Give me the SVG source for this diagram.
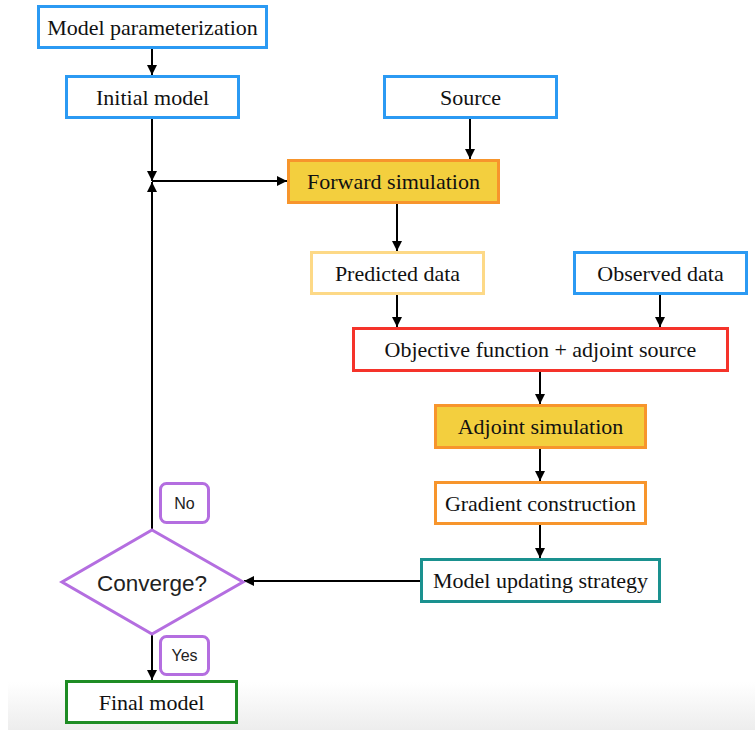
<svg xmlns="http://www.w3.org/2000/svg" width="755" height="730" viewBox="0 0 755 730">
<defs>
<linearGradient id="bg" x1="0" y1="0" x2="0" y2="1">
<stop offset="0" stop-color="#ffffff"/>
<stop offset="1" stop-color="#ededed"/>
</linearGradient>
<marker id="ah" viewBox="0 0 10 10" refX="10" refY="5" markerWidth="10" markerHeight="10" markerUnits="userSpaceOnUse" orient="auto">
<path d="M0,0 L10,5 L0,10 z" fill="#000"/>
</marker>
<style>
.box{stroke-width:3}
.t{font-family:"Liberation Serif","Times New Roman",serif;font-size:22px;fill:#111;text-anchor:middle;dominant-baseline:central}
.s{font-family:"Liberation Sans",Arial,sans-serif;fill:#222;text-anchor:middle;dominant-baseline:central}
.blue{fill:#fff;stroke:#2b9af3}
.orange{stroke:#f7952c}
.yellow{fill:#f3cf3e}
.conn line{stroke:#000;stroke-width:2;marker-end:url(#ah)}
.lbl{fill:#fff;stroke:#b46ee0;stroke-width:3}
</style>
</defs>
<rect width="755" height="730" fill="#fff"/>
<rect x="8" y="682" width="747" height="48" fill="url(#bg)"/>

<g id="connectors" class="conn">
<line x1="152" y1="48" x2="152" y2="75"/>
<line x1="152" y1="118" x2="152" y2="181"/>
<line x1="152" y1="530" x2="152" y2="182"/>
<line x1="152" y1="181" x2="287" y2="181"/>
<line x1="470" y1="118" x2="470" y2="159"/>
<line x1="397" y1="203" x2="397" y2="251"/>
<line x1="397" y1="294" x2="397" y2="327"/>
<line x1="660" y1="294" x2="660" y2="327"/>
<line x1="540" y1="371" x2="540" y2="404"/>
<line x1="540" y1="448" x2="540" y2="481"/>
<line x1="540" y1="524" x2="540" y2="558"/>
<line x1="420" y1="581" x2="244" y2="581"/>
<line x1="152" y1="635" x2="152" y2="680"/>
</g>

<g id="model-parameterization">
<rect class="box blue" x="38.5" y="6.5" width="228" height="41"/>
<text class="t" x="152.5" y="27">Model parameterization</text>
</g>
<g id="initial-model">
<rect class="box blue" x="66.5" y="76.5" width="172" height="41"/>
<text class="t" x="152.5" y="97">Initial model</text>
</g>
<g id="source">
<rect class="box blue" x="384.5" y="76.5" width="172" height="41"/>
<text class="t" x="470.5" y="97">Source</text>
</g>
<g id="forward-simulation">
<rect class="box yellow orange" x="288.5" y="160.5" width="210" height="42"/>
<text class="t" x="393.5" y="181.5">Forward simulation</text>
</g>
<g id="predicted-data">
<rect class="box" fill="#fff" stroke="#fdd987" x="311.5" y="252.5" width="172" height="41"/>
<text class="t" x="397.5" y="273">Predicted data</text>
</g>
<g id="observed-data">
<rect class="box blue" x="574.5" y="252.5" width="172" height="41"/>
<text class="t" x="660.5" y="273">Observed data</text>
</g>
<g id="objective-function">
<rect class="box" fill="#fff" stroke="#f5332a" x="353.5" y="328.5" width="374" height="42"/>
<text class="t" x="540.5" y="349.5">Objective function + adjoint source</text>
</g>
<g id="adjoint-simulation">
<rect class="box yellow orange" x="435.5" y="405.5" width="210" height="42"/>
<text class="t" x="540.5" y="426.5">Adjoint simulation</text>
</g>
<g id="gradient-construction">
<rect class="box orange" fill="#fff" x="435.5" y="482.5" width="210" height="41"/>
<text class="t" x="540.5" y="503">Gradient construction</text>
</g>
<g id="model-updating-strategy">
<rect class="box" fill="#fff" stroke="#1a918f" x="421.5" y="559.5" width="238" height="42"/>
<text class="t" x="540.5" y="580.5">Model updating strategy</text>
</g>
<g id="converge">
<polygon class="box" fill="#fff" stroke="#b46ee0" points="152,530 243,582 152,634 62,582"/>
<text class="s" x="152" y="583" font-size="22.5">Converge?</text>
</g>
<g id="no-label">
<rect class="lbl" x="160.5" y="483.5" width="48" height="39" rx="6"/>
<text class="s" x="184.5" y="503" font-size="16">No</text>
</g>
<g id="yes-label">
<rect class="lbl" x="160.5" y="636.5" width="48" height="38" rx="6"/>
<text class="s" x="184.5" y="655.5" font-size="16">Yes</text>
</g>
<g id="final-model">
<rect class="box" fill="#fff" stroke="#1e8c24" x="66.5" y="681.5" width="170" height="41"/>
<text class="t" x="151.5" y="702">Final model</text>
</g>
</svg>
